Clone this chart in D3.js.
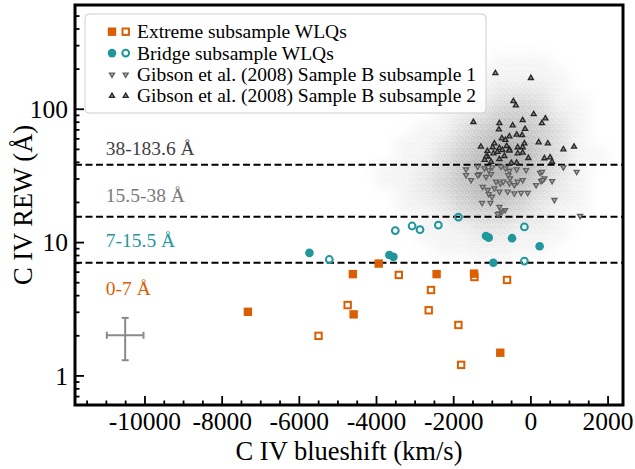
<!DOCTYPE html>
<html>
<head>
<meta charset="utf-8">
<script src="https://cdn.jsdelivr.net/npm/d3@7"></script>
<style>
  body { margin: 0; background: #fff; }
  svg { display: block; }
  text { font-family: "Liberation Serif", "DejaVu Serif", serif; }
</style>
</head>
<body>
<div class="visData"></div>
<script>
const w = 635;
const h = 469;
const plotLeft = 75, plotRight = 623, plotTop = 5, plotBottom = 405;

const orange = "#d95f02";
const teal = "#1f979b";

// [C IV blueshift (km/s), C IV REW (A)]
const extremeFilled = [[-7320, 3.0], [-4600, 5.75], [-4580, 2.87], [-3930, 6.9], [-2430, 5.75], [-1460, 5.8], [-780, 1.48]];
const extremeOpen = [[-5490, 1.98], [-4735, 3.37], [-3410, 5.67], [-2575, 4.37], [-2635, 3.08], [-1865, 2.39], [-1795, 1.2], [-1450, 5.47], [-605, 5.2]];
const bridgeFilled = [[-5725, 8.3], [-3655, 8.0], [-3550, 7.75], [-1150, 11.1], [-1080, 10.8], [-475, 10.7], [240, 9.3], [-960, 7.0]];
const bridgeOpen = [[-5210, 7.4], [-3500, 12.2], [-3065, 13.2], [-2860, 12.4], [-2385, 13.4], [-1865, 15.4], [-155, 13.0], [-155, 7.2]];

const gibsonSub1 = [
  [-1666, 35.1], [-1365, 36.8], [-1666, 31.8], [-1321, 32.4], [-1192, 35.8], [-1080, 34.7], [-992, 36.4],
  [-1018, 32.4], [-1148, 30.9], [-759, 36.8], [-544, 34.3], [-570, 31.8], [-526, 30.1], [-355, 35.1],
  [-111, 34.7], [-648, 35.8], [251, 33.1], [363, 30.1], [148, 26.8], [-889, 28.4], [-777, 27.6],
  [-700, 28.4], [-544, 27.6], [-415, 26.8], [-329, 28.4], [-200, 29.2], [-1236, 26], [-1106, 24.6],
  [-933, 25.3], [-803, 23.9], [-588, 23.9], [-415, 23.2], [-241, 23.4], [-70, 23.4], [-1080, 22.9],
  [-992, 21.9], [-1251, 19.7], [-1036, 19.7], [-803, 18.4], [-656, 17.4], [-733, 16.9], [-803, 16.4],
  [-847, 16.2], [855, 36.4], [1200, 33.7], [303, 33.7], [277, 28.7], [562, 28.7], [622, 20.7],
  [1288, 15.7], [-1536, 29.2], [-1365, 31.8], [319, 29.2]
];
const gibsonSub2 = [
  [-907, 185], [13, 170], [-440, 114], [-376, 106], [86, 91], [389, 84.5], [298, 78], [-1477, 79.5],
  [-803, 78], [-459, 75], [-200, 82], [-137, 70.5], [-816, 70], [-544, 62], [-738, 60], [-355, 64],
  [-215, 63.5], [-1283, 52], [-933, 55], [215, 56], [453, 55], [855, 49.6], [1132, 52], [-977, 51.4],
  [-803, 50.8], [-614, 52.5], [-544, 49.6], [-329, 51.4], [-200, 51.4], [-1106, 43.7], [-959, 46.3],
  [-803, 41.8], [-1018, 40], [-544, 48.6], [-329, 46.3], [-200, 46.8], [-355, 39.4], [363, 42.5],
  [510, 43.2], [562, 40], [-1148, 43.7], [-1184, 41.3], [-674, 44.2], [-492, 39.2], [-52, 42.7],
  [-855, 47.4], [-725, 49], [-1114, 48.2], [-155, 55], [-648, 58.3]
];

// background quasar cloud, density (0-9)
const cloudShift = [-4750, -4250, -3750, -3250, -2750, -2250, -1750, -1250, -750, -250, 250, 750, 1250, 1750];
const cloudLogRew = [2.35, 2.25, 2.15, 2.05, 1.95, 1.85, 1.75, 1.65, 1.55, 1.45, 1.35, 1.25, 1.15, 1.05, 0.95, 0.85];
const cloudDensity = [
  [0, 0, 0, 0, 0, 0, 0, 0, 1, 1, 1, 0, 0, 0],
  [0, 0, 0, 0, 0, 0, 0, 1, 1, 1, 1, 1, 0, 0],
  [0, 0, 0, 0, 0, 0, 1, 1, 2, 2, 2, 1, 0, 0],
  [0, 0, 0, 0, 0, 1, 1, 2, 3, 4, 3, 1, 1, 0],
  [0, 0, 0, 0, 0, 1, 2, 3, 5, 5, 4, 2, 1, 0],
  [0, 0, 0, 0, 1, 1, 3, 5, 6, 6, 5, 3, 1, 0],
  [0, 0, 0, 1, 1, 2, 4, 6, 8, 7, 5, 3, 1, 0],
  [0, 0, 0, 1, 1, 3, 5, 7, 9, 8, 5, 3, 1, 1],
  [0, 0, 1, 1, 2, 3, 6, 8, 9, 8, 5, 3, 1, 0],
  [0, 0, 1, 1, 2, 4, 6, 8, 8, 7, 4, 2, 1, 0],
  [0, 0, 0, 1, 2, 3, 5, 7, 7, 5, 3, 2, 1, 0],
  [0, 0, 0, 1, 1, 2, 4, 5, 5, 4, 2, 1, 1, 0],
  [0, 0, 0, 0, 1, 1, 2, 3, 3, 2, 2, 1, 0, 0],
  [0, 0, 0, 0, 1, 1, 1, 2, 2, 1, 1, 1, 0, 0],
  [0, 0, 0, 0, 0, 1, 1, 1, 1, 1, 1, 0, 0, 0],
  [0, 0, 0, 0, 0, 0, 0, 1, 1, 0, 0, 0, 0, 0]
];

const boundaries = [7, 15.5, 38];
const bandLabels = [
  { text: "38-183.6 Å", x: -11000, y: 45, color: "#404040" },
  { text: "15.5-38 Å", x: -11000, y: 20, color: "#7a7a7a" },
  { text: "7-15.5 Å", x: -11000, y: 9.2, color: teal },
  { text: "0-7 Å", x: -11000, y: 4.0, color: orange }
];
// typical uncertainty
const errShift = -10500, errShiftErr = 475, errRew = 2, errRewLow = 1.3, errRewHigh = 2.7;

const xTicks = [-10000, -8000, -6000, -4000, -2000, 0, 2000];
const xMinor = d3.range(-11500, 2401, 500).filter((v) => v % 2000 !== 0);
const yTicks = [1, 10, 100];
const yMinor = [0.7, 0.8, 0.9, 2, 3, 4, 5, 6, 7, 8, 9, 20, 30, 40, 50, 60, 70, 80, 90, 200, 300, 400, 500];

const svg = d3
  .select(".visData")
  .append("svg")
  .attr("width", w)
  .attr("height", h);

const xScale = d3.scaleLinear().domain([-11800, 2400]).range([plotLeft, plotRight]);
const yScale = d3.scaleLog().domain([0.6, 600]).range([plotBottom, plotTop]);

const defs = svg.append("defs");
defs.append("clipPath").attr("id", "plotclip")
  .append("rect").attr("x", plotLeft).attr("y", plotTop).attr("width", plotRight - plotLeft).attr("height", plotBottom - plotTop);
defs.append("filter").attr("id", "soft").attr("x", "-20%").attr("y", "-20%").attr("width", "140%").attr("height", "140%")
  .append("feGaussianBlur").attr("stdDeviation", 6.5);

const stipple = defs.append("pattern").attr("id", "stipple")
  .attr("patternUnits", "userSpaceOnUse").attr("width", 6).attr("height", 6);
[[0.5, 0.5], [3.5, 1.2], [1.8, 3.2], [4.6, 4], [0.2, 5], [3, 5.3]].forEach(([px, py]) => {
  stipple.append("rect").attr("x", px).attr("y", py).attr("width", 1).attr("height", 1).attr("fill", "#9a9a9a");
});

// density mask
const mask = defs.append("mask").attr("id", "cloudmask")
  .attr("maskUnits", "userSpaceOnUse")
  .attr("x", 0).attr("y", 0).attr("width", w).attr("height", h);
const maskG = mask.append("g").attr("filter", "url(#soft)");
cloudDensity.forEach((row, i) => {
  row.forEach((d, j) => {
    if (!d) return;
    const x0 = xScale(cloudShift[j] - 250), x1 = xScale(cloudShift[j] + 250);
    const y0 = yScale(Math.pow(10, cloudLogRew[i] + 0.05)), y1 = yScale(Math.pow(10, cloudLogRew[i] - 0.05));
    maskG.append("rect").attr("x", x0).attr("y", y0).attr("width", x1 - x0).attr("height", y1 - y0)
      .attr("fill", "#fff").attr("fill-opacity", d / 9);
  });
});

const plot = svg.append("g").attr("clip-path", "url(#plotclip)");

//cloud
plot.append("rect").attr("x", plotLeft).attr("y", plotTop).attr("width", plotRight - plotLeft).attr("height", plotBottom - plotTop)
  .attr("fill", "#b4b4b4").attr("mask", "url(#cloudmask)");
plot.append("rect").attr("x", plotLeft).attr("y", plotTop).attr("width", plotRight - plotLeft).attr("height", plotBottom - plotTop)
  .attr("fill", "url(#stipple)").attr("mask", "url(#cloudmask)");

//dashed boundaries
plot.selectAll("line.bound")
  .data(boundaries)
  .enter()
  .append("line")
  .attr("class", "bound")
  .attr("x1", plotLeft).attr("x2", plotRight)
  .attr("y1", (d) => yScale(d)).attr("y2", (d) => yScale(d))
  .attr("stroke", "#000").attr("stroke-width", 2).attr("stroke-dasharray", "7,3.5");

const triUp = d3.symbol().type(d3.symbolTriangle).size(11);

// Gibson subsamples
plot.selectAll("path.sub1")
  .data(gibsonSub1)
  .enter()
  .append("path")
  .attr("class", "sub1")
  .attr("d", triUp)
  .attr("transform", (d) => `translate(${xScale(d[0])},${yScale(d[1])}) rotate(180)`)
  .attr("fill", "#b0b0b0").attr("stroke", "#606060").attr("stroke-width", 1.3);

plot.selectAll("path.sub2")
  .data(gibsonSub2)
  .enter()
  .append("path")
  .attr("class", "sub2")
  .attr("d", triUp)
  .attr("transform", (d) => `translate(${xScale(d[0])},${yScale(d[1])})`)
  .attr("fill", "#8c8c8c").attr("stroke", "#262626").attr("stroke-width", 1.3);

function drawMarkers(g, data, kind) {
  const sel = g.selectAll(null).data(data).enter();
  if (kind === "sqFilled") {
    sel.append("rect").attr("x", (d) => xScale(d[0]) - 4.2).attr("y", (d) => yScale(d[1]) - 4.2)
      .attr("width", 8.4).attr("height", 8.4).attr("fill", orange);
  } else if (kind === "sqOpen") {
    sel.append("rect").attr("x", (d) => xScale(d[0]) - 3.2).attr("y", (d) => yScale(d[1]) - 3.2)
      .attr("width", 6.4).attr("height", 6.4).attr("fill", "#fff").attr("stroke", orange).attr("stroke-width", 2);
  } else if (kind === "circFilled") {
    sel.append("circle").attr("cx", (d) => xScale(d[0])).attr("cy", (d) => yScale(d[1]))
      .attr("r", 4.3).attr("fill", teal);
  } else if (kind === "circOpen") {
    sel.append("circle").attr("cx", (d) => xScale(d[0])).attr("cy", (d) => yScale(d[1]))
      .attr("r", 3.4).attr("fill", "none").attr("stroke", teal).attr("stroke-width", 2);
  }
}

const pts = svg.append("g");
drawMarkers(pts, bridgeOpen, "circOpen");
drawMarkers(pts, bridgeFilled, "circFilled");
drawMarkers(pts, extremeOpen, "sqOpen");
drawMarkers(pts, extremeFilled, "sqFilled");

// band labels
svg.selectAll("text.band")
  .data(bandLabels)
  .enter()
  .append("text")
  .attr("class", "band")
  .attr("x", (d) => xScale(d.x))
  .attr("y", (d) => yScale(d.y))
  .attr("font-size", 19.5)
  .attr("fill", (d) => d.color)
  .text((d) => d.text);

// error cross
const err = svg.append("g").attr("stroke", "#8a8a8a").attr("stroke-width", 2).attr("fill", "none");
const ex = xScale(errShift), ey = yScale(errRew);
err.append("line").attr("x1", xScale(errShift - errShiftErr)).attr("x2", xScale(errShift + errShiftErr)).attr("y1", ey).attr("y2", ey);
err.append("line").attr("x1", ex).attr("x2", ex).attr("y1", yScale(errRewLow)).attr("y2", yScale(errRewHigh));
[errShift - errShiftErr, errShift + errShiftErr].forEach((v) => {
  err.append("line").attr("x1", xScale(v)).attr("x2", xScale(v)).attr("y1", ey - 3.5).attr("y2", ey + 3.5);
});
[errRewLow, errRewHigh].forEach((v) => {
  err.append("line").attr("x1", ex - 3.5).attr("x2", ex + 3.5).attr("y1", yScale(v)).attr("y2", yScale(v));
});

//axis
const xAxis = d3.axisBottom(xScale).tickValues(xTicks).tickSize(-9).tickPadding(7).tickFormat((d) => String(d));
const xAxisMinor = d3.axisBottom(xScale).tickValues(xMinor).tickSize(-4.5).tickFormat("");
const yAxis = d3.axisLeft(yScale).tickValues(yTicks).tickSize(-9).tickPadding(7).tickFormat((d) => String(d));
const yAxisMinor = d3.axisLeft(yScale).tickValues(yMinor).tickSize(-4.5).tickFormat("");

function styleAxis(g) {
  g.select(".domain").remove();
  g.selectAll("line").attr("stroke", "#000").attr("stroke-width", 1.8);
  g.selectAll("text").attr("font-size", 25.5).attr("fill", "#000")
    .style("font-family", '"Liberation Serif", "DejaVu Serif", serif');
}

svg.append("g").attr("id", "x-axis").attr("transform", `translate(0,${plotBottom})`).call(xAxis).call(styleAxis);
svg.append("g").attr("transform", `translate(0,${plotBottom})`).call(xAxisMinor).call(styleAxis);
svg.append("g").attr("id", "y-axis").attr("transform", `translate(${plotLeft},0)`).call(yAxis).call(styleAxis);
svg.append("g").attr("transform", `translate(${plotLeft},0)`).call(yAxisMinor).call(styleAxis);
svg.select("#y-axis").selectAll("text").attr("dy", "0.34em");

// frame
svg.append("rect").attr("x", plotLeft).attr("y", plotTop).attr("width", plotRight - plotLeft).attr("height", plotBottom - plotTop)
  .attr("fill", "none").attr("stroke", "#000").attr("stroke-width", 3);

// axis labels
svg.append("text").attr("x", (plotLeft + plotRight) / 2).attr("y", 460).attr("text-anchor", "middle")
  .attr("font-size", 26.5).text("C IV blueshift (km/s)");
svg.append("text").attr("transform", `translate(32,${(plotTop + plotBottom) / 2}) rotate(-90)`).attr("text-anchor", "middle")
  .attr("font-size", 26.5).text("C IV REW (Å)");

//create legend
const legend = svg.append("g").attr("id", "legend");
legend.append("rect").attr("x", 85).attr("y", 14).attr("width", 401).attr("height", 99).attr("rx", 4)
  .attr("fill", "#fff").attr("fill-opacity", 0.85).attr("stroke", "#cfcfcf").attr("stroke-width", 1);
const legendRows = [
  { label: "Extreme subsample WLQs", kinds: ["sqFilled", "sqOpen"] },
  { label: "Bridge subsample WLQs", kinds: ["circFilled", "circOpen"] },
  { label: "Gibson et al. (2008) Sample B subsample 1", kinds: ["down", "down"] },
  { label: "Gibson et al. (2008) Sample B subsample 2", kinds: ["up", "up"] }
];
legendRows.forEach((row, i) => {
  const cy = 31.7 + i * 21.4;
  row.kinds.forEach((k, j) => {
    const cx = 112 + j * 13.7;
    const g = legend.append("g");
    if (k === "sqFilled") g.append("rect").attr("x", cx - 4.2).attr("y", cy - 4.2).attr("width", 8.4).attr("height", 8.4).attr("fill", orange);
    if (k === "sqOpen") g.append("rect").attr("x", cx - 3.2).attr("y", cy - 3.2).attr("width", 6.4).attr("height", 6.4).attr("fill", "#fff").attr("stroke", orange).attr("stroke-width", 2);
    if (k === "circFilled") g.append("circle").attr("cx", cx).attr("cy", cy).attr("r", 4.3).attr("fill", teal);
    if (k === "circOpen") g.append("circle").attr("cx", cx).attr("cy", cy).attr("r", 3.4).attr("fill", "none").attr("stroke", teal).attr("stroke-width", 2);
    if (k === "down") g.append("path").attr("d", triUp).attr("transform", `translate(${cx},${cy}) rotate(180)`).attr("fill", "#b0b0b0").attr("stroke", "#606060").attr("stroke-width", 1.3);
    if (k === "up") g.append("path").attr("d", triUp).attr("transform", `translate(${cx},${cy})`).attr("fill", "#8c8c8c").attr("stroke", "#262626").attr("stroke-width", 1.3);
  });
  legend.append("text").attr("x", 137).attr("y", cy + 6.5).attr("font-size", 19.5).attr("fill", "#000").text(row.label);
});
</script>
</body>
</html>
